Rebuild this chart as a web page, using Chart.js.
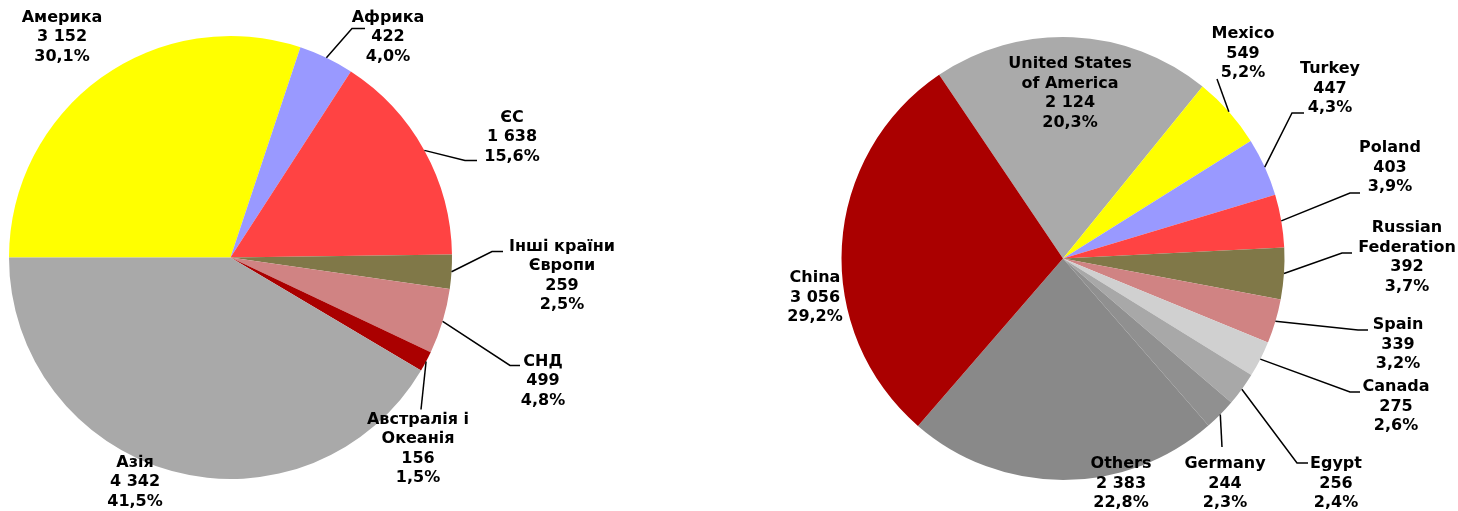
<!DOCTYPE html>
<html>
<head>
<meta charset="utf-8">
<script src="https://cdn.jsdelivr.net/npm/chart.js@4.4.1/dist/chart.umd.min.js"></script>
<style>
  html, body { margin: 0; padding: 0; background: #ffffff; }
  body { width: 1458px; height: 511px; position: relative; overflow: hidden; }
  .box { position: absolute; top: 0; width: 729px; height: 511px; }
  #boxL { left: 0; }
  #boxR { left: 729px; }
</style>
</head>
<body>
<div class="box" id="boxL"><canvas id="cL"></canvas></div>
<div class="box" id="boxR"><canvas id="cR"></canvas></div>
<script>
// ---------- DATA ----------
const regionLabels = ['Америка', 'Африка', 'ЄС', 'Інші країни\nЄвропи', 'СНД', 'Австралія і\nОкеанія', 'Азія'];
const regionValues = [3152, 422, 1638, 259, 499, 156, 4342];
const regionPercents = ['30,1%', '4,0%', '15,6%', '2,5%', '4,8%', '1,5%', '41,5%'];

const countryLabels = ['United States\nof America', 'Mexico', 'Turkey', 'Poland', 'Russian\nFederation', 'Spain', 'Canada', 'Egypt', 'Germany', 'Others', 'China'];
const countryValues = [2124, 549, 447, 403, 392, 339, 275, 256, 244, 2383, 3056];
const countryPercents = ['20,3%', '5,2%', '4,3%', '3,9%', '3,7%', '3,2%', '2,6%', '2,4%', '2,3%', '22,8%', '29,2%'];

// ---------- STYLE ----------
const regionColors = ['#FFFF00', '#9999FF', '#FF4343', '#807848', '#D08383', '#AA0000', '#A9A9A9'];
const countryColors = ['#AAAAAA', '#FFFF00', '#9999FF', '#FF4343', '#807848', '#D08383', '#D0D0D0', '#A8A8A8', '#909090', '#898989', '#AA0000'];

// label placement relative to pie centre: [dx, dy] of first text line centre
const regionLabelPos = [[-168.5, -240], [157.5, -240], [281.5, -140], [331.5, -11], [312.5, 104], [187.5, 162], [-95.5, 205]];
// leader line points after the arc edge (relative to pie centre)
const regionLeaders = [null, [[121.5, -229], [134.5, -229]], [[234.5, -97], [246.5, -97]], [[261.5, -6], [272.5, -6]], [[279.5, 108], [289.5, 108]], [[190.5, 152]], null];

const countryLabelPos = [[7, -194.5], [180, -224.5], [267, -189.5], [327, -110.5], [344, -30.5], [335, 66.5], [333, 128.5], [273, 205.5], [162, 205.5], [58, 205.5], [-248, 19.5]];
const countryLeaders = [null, [[154, -179.5]], [[229, -145.5], [241, -145.5]], [[287, -65.5], [297, -65.5]], [[279, -5.5], [289, -5.5]], [[295, 71.5], [305, 71.5]], [[287, 133.5], [297, 133.5]], [[234, 204.5], [245, 204.5]], [[159, 188.5]], null, null];

const FONT = "bold 16px 'DejaVu Sans', Verdana, sans-serif";
const LINE_H = 19.5;

function fmtValue(v) {
  return String(v).replace(/\B(?=(\d{3})+(?!\d))/g, ' ');
}

const labelPlugin = {
  id: 'pieLabels',
  afterDatasetsDraw(chart, args, opts) {
    const ctx = chart.ctx;
    const meta = chart.getDatasetMeta(0);
    const ds = chart.data.datasets[0];
    ctx.save();
    meta.data.forEach((arc, i) => {
      const cx = arc.x, cy = arc.y;
      const leader = opts.leaders[i];
      if (leader) {
        const mid = (arc.startAngle + arc.endAngle) / 2;
        ctx.beginPath();
        ctx.moveTo(cx + Math.cos(mid) * arc.outerRadius, cy + Math.sin(mid) * arc.outerRadius);
        leader.forEach(p => ctx.lineTo(cx + p[0], cy + p[1]));
        ctx.strokeStyle = '#000000';
        ctx.lineWidth = 1.5;
        ctx.stroke();
      }
      const lines = chart.data.labels[i].split('\n').concat([fmtValue(ds.data[i]), opts.pct[i]]);
      const pos = opts.pos[i];
      ctx.font = FONT;
      ctx.fillStyle = '#000000';
      ctx.textAlign = 'center';
      ctx.textBaseline = 'middle';
      lines.forEach((t, k) => ctx.fillText(t, cx + pos[0], cy + pos[1] + k * LINE_H));
    });
    ctx.restore();
  }
};

function makePie(id, labels, values, pct, colors, rotation, padding, pos, leaders) {
  return new Chart(document.getElementById(id), {
    type: 'pie',
    data: {
      labels: labels,
      datasets: [{ data: values, backgroundColor: colors, borderWidth: 0, hoverOffset: 0, offset: 0 }]
    },
    options: {
      responsive: true,
      maintainAspectRatio: false,
      animation: false,
      rotation: rotation,
      layout: { padding: padding },
      plugins: {
        legend: { display: false },
        tooltip: { enabled: false },
        pieLabels: { pos: pos, leaders: leaders, pct: pct }
      }
    },
    plugins: [labelPlugin]
  });
}

makePie('cL', regionLabels, regionValues, regionPercents, regionColors, 270,
  { left: 9, top: 36, right: 277, bottom: 32 }, regionLabelPos, regionLeaders);
makePie('cR', countryLabels, countryValues, countryPercents, countryColors, 326,
  { left: 112, top: 37, right: 173, bottom: 31 }, countryLabelPos, countryLeaders);
</script>
</body>
</html>
